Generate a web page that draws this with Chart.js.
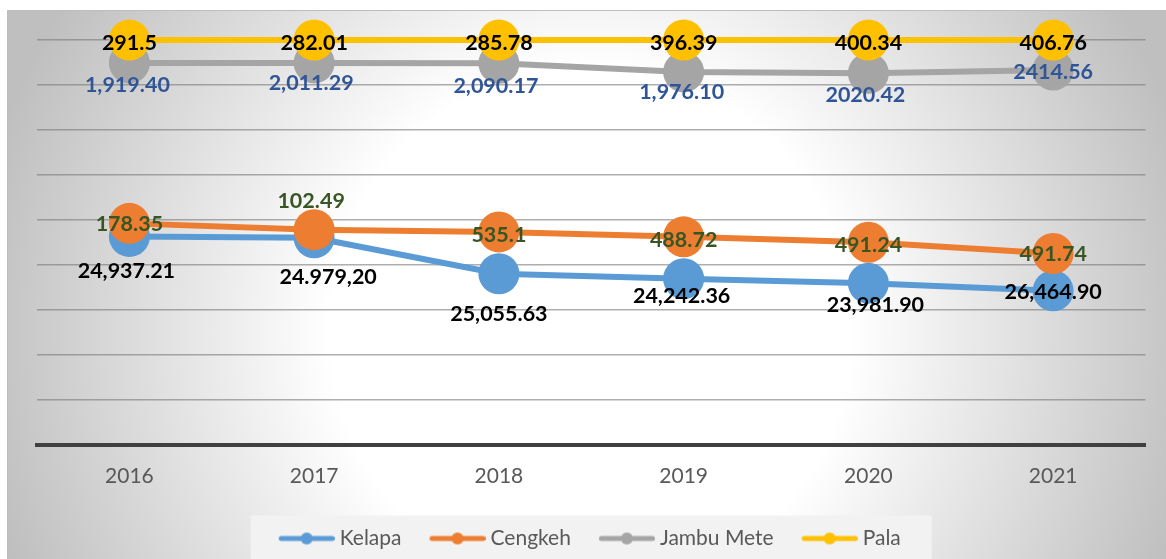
<!DOCTYPE html>
<html>
<head>
<meta charset="utf-8">
<script src="https://cdn.jsdelivr.net/npm/chart.js@4.4.1/dist/chart.umd.min.js"></script>
<style>
html,body{margin:0;padding:0;background:#fff;}
#wrap{position:relative;width:1166px;height:559px;}
</style>
</head>
<body>
<div id="wrap"><canvas id="c" width="1166" height="559"></canvas></div>
<script>
// ---- data ----
const years = ['2016', '2017', '2018', '2019', '2020', '2021'];
const seriesNames = ['Kelapa', 'Cengkeh', 'Jambu Mete', 'Pala'];
// plotted heights, in gridline units (the chart's hidden axis runs 0..9)
const kelapaPlot  = [4.63, 4.60, 3.80, 3.69, 3.59, 3.42];
const cengkehPlot = [4.92, 4.78, 4.73, 4.62, 4.50, 4.25];
const jambuPlot   = [8.49, 8.49, 8.48, 8.29, 8.26, 8.33];
const palaPlot    = [9, 9, 9, 9, 9, 9];
// data labels as printed on the chart
const kelapaLabels  = ['24,937.21', '24.979,20', '25,055.63', '24,242.36', '23,981.90', '26,464.90'];
const cengkehLabels = ['178.35', '102.49', '535.1', '488.72', '491.24', '491.74'];
const jambuLabels   = ['1,919.40', '2,011.29', '2,090.17', '1,976.10', '2020.42', '2414.56'];
const palaLabels    = ['291.5', '282.01', '285.78', '396.39', '400.34', '406.76'];

// ---- styling ----
const colors = ['#5B9BD5', '#ED7D31', '#A5A5A5', '#FFC000'];
const labelColors = ['#000000', '#375623', '#2F5597', '#000000'];
// label placement relative to the marker centre [dx, dy] in px
const labelOffsets = [
  [[-3, 34], [14, 39], [0, 40], [-2, 17], [7, 21], [0, 0]],
  [[0, 0], [-3, -29], [0, 2], [0, 2], [0, 2], [0, 0]],
  [[-2, 21], [-3, 19], [-3, 22], [-2, 19], [-3, 21], [0, 1.5]],
  [[0, 2.5], [0, 2.5], [0, 2.5], [0, 2.5], [0, 2.5], [0, 2.5]]
];
const plots = [kelapaPlot, cengkehPlot, jambuPlot, palaPlot];
const texts = [kelapaLabels, cengkehLabels, jambuLabels, palaLabels];
const drawOrder = [3, 2, 1, 0];

function legendSample(color) {
  const c = document.createElement('canvas');
  c.width = 77; c.height = 14;
  const g = c.getContext('2d');
  g.strokeStyle = color; g.lineWidth = 5; g.lineCap = 'round';
  g.beginPath(); g.moveTo(23.5, 7); g.lineTo(74.5, 7); g.stroke();
  g.fillStyle = color;
  g.beginPath(); g.arc(49, 7, 6, 0, Math.PI * 2); g.fill();
  return c;
}
const samples = colors.map(legendSample);

const bgPlugin = {
  id: 'bg',
  beforeDraw(chart) {
    const ctx = chart.ctx;
    ctx.save();
    ctx.fillStyle = '#ffffff';
    ctx.fillRect(0, 0, chart.width, chart.height);
    const g = ctx.createRadialGradient(590, 330, 0, 590, 330, 620);
    g.addColorStop(0, '#ffffff');
    g.addColorStop(0.42, '#ffffff');
    g.addColorStop(1, '#bfbfbf');
    ctx.fillStyle = g;
    ctx.fillRect(7, 10, chart.width - 7, chart.height - 10);
    ctx.strokeStyle = '#bdbdbd'; ctx.lineWidth = 1;
    ctx.beginPath(); ctx.moveTo(7.5, chart.height); ctx.lineTo(7.5, 10.5); ctx.lineTo(chart.width, 10.5); ctx.stroke();
    const lg = chart.legend;
    if (lg && lg.legendHitBoxes && lg.legendHitBoxes.length) {
      const hb = lg.legendHitBoxes;
      const x0 = hb[0].left - 12.5;
      const last = hb[hb.length - 1];
      const x1 = last.left + last.width + 31;
      ctx.fillStyle = '#f2f2f2';
      ctx.fillRect(x0, lg.top, x1 - x0, lg.bottom - lg.top);
    }
    ctx.restore();
  }
};

const labelPlugin = {
  id: 'valueLabels',
  afterDatasetsDraw(chart) {
    const ctx = chart.ctx;
    const size = 21.5;
    ctx.save();
    ctx.font = 'bold ' + size + 'px Lato';
    ctx.textAlign = 'center';
    ctx.textBaseline = 'alphabetic';
    texts.forEach((set, di) => {
      const meta = chart.getDatasetMeta(di);
      ctx.fillStyle = labelColors[di];
      meta.data.forEach((pt, i) => {
        const [dx, dy] = labelOffsets[di][i];
        ctx.fillText(set[i], pt.x + dx, pt.y + dy + 0.36 * size);
      });
    });
    ctx.restore();
  }
};

const datasets = seriesNames.map((name, i) => ({
  label: name,
  data: plots[i],
  borderColor: colors[i],
  backgroundColor: colors[i],
  pointBackgroundColor: colors[i],
  pointBorderWidth: 0,
  pointRadius: 20.5,
  pointHoverRadius: 20.5,
  borderWidth: 6,
  tension: 0,
  clip: false,
  order: drawOrder[i]
}));

new Chart(document.getElementById('c'), {
  type: 'line',
  data: { labels: years, datasets },
  options: {
    responsive: false,
    animation: false,
    devicePixelRatio: 1,
    events: [],
    layout: { padding: { left: 17, right: 19, top: 40, bottom: 0 } },
    scales: {
      x: {
        offset: true,
        grid: { display: false, drawTicks: false },
        border: { display: true, color: '#404040', width: 4 },
        ticks: { color: '#595959', font: { family: 'Lato', size: 21 }, padding: 19 },
        afterFit(s) { s.height = 71; }
      },
      y: {
        min: 0, max: 9,
        ticks: { display: false, stepSize: 1 },
        grid: { color: 'rgba(120,120,120,0.6)', lineWidth: 1.6, drawTicks: false },
        border: { display: false },
        afterFit(s) { s.width = 20; }
      }
    },
    plugins: {
      tooltip: { enabled: false },
      legend: {
        position: 'bottom',
        labels: {
          usePointStyle: true,
          pointStyleWidth: 66,
          padding: 12.5,
          color: '#595959',
          font: { family: 'Lato', size: 21 },
          sort: (a, b) => a.datasetIndex - b.datasetIndex,
          generateLabels(chart) {
            const items = Chart.defaults.plugins.legend.labels.generateLabels(chart);
            items.forEach(it => { it.pointStyle = samples[it.datasetIndex]; });
            return items;
          }
        }
      }
    }
  },
  plugins: [bgPlugin, labelPlugin]
});
</script>
</body>
</html>
